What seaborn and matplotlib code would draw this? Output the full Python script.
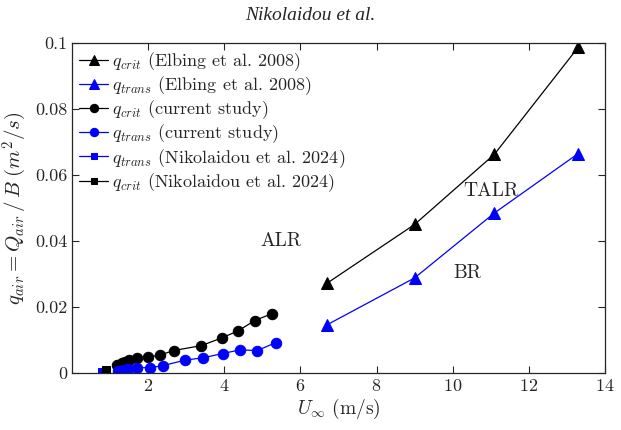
import matplotlib
matplotlib.use("Agg")
import matplotlib.pyplot as plt
import matplotlib.ticker as ticker
import seaborn as sns
import pandas as pd

# Elbing et al. 2008
u_elbing = [6.7, 9.0, 11.1, 13.3]
q_crit_elbing = [0.0272, 0.0450, 0.0663, 0.0987]
q_trans_elbing = [0.0146, 0.0288, 0.0485, 0.0665]

# current study
u_crit_cur = [1.18, 1.30, 1.40, 1.50, 1.70, 2.00, 2.30, 2.67, 3.40, 3.93, 4.37, 4.80, 5.26]
q_crit_cur = [0.0025, 0.0030, 0.0034, 0.0038, 0.0045, 0.0048, 0.0054, 0.0068, 0.0083, 0.0106, 0.0128, 0.0159, 0.0180]
u_trans_cur = [1.20, 1.35, 1.48, 1.70, 2.05, 2.38, 2.97, 3.44, 3.96, 4.41, 4.87, 5.35]
q_trans_cur = [0.0007, 0.0010, 0.0013, 0.0016, 0.0016, 0.0022, 0.0039, 0.0046, 0.0059, 0.0070, 0.0068, 0.0092]

# Nikolaidou et al. 2024
u_trans_nik = [0.78]
q_trans_nik = [0.0004]
u_crit_nik = [0.90]
q_crit_nik = [0.0010]

sns.set_style("ticks")
plt.rcParams['font.family'] = ['cmr10', 'DejaVu Serif']
plt.rcParams['mathtext.fontset'] = 'cm'
plt.rcParams['axes.formatter.use_mathtext'] = True
plt.rcParams['axes.unicode_minus'] = False

fig = plt.figure(figsize=(6.21, 4.30), dpi=100)
ax = fig.add_axes([0.116, 0.1326, 0.858, 0.7674])

def draw(u, q, color, marker, ms, label):
    df = pd.DataFrame({'u': u, 'q': q})
    sns.lineplot(data=df, x='u', y='q', ax=ax, color=color, marker=marker,
                 markersize=ms, markeredgecolor=color, linewidth=0.9,
                 sort=False, estimator=None, label=label)

draw(u_elbing, q_crit_elbing, 'black', '^', 8.5, r'$q_{crit}$ (Elbing et al. 2008)')
draw(u_elbing, q_trans_elbing, 'blue', '^', 8.5, r'$q_{trans}$ (Elbing et al. 2008)')
draw(u_crit_cur, q_crit_cur, 'black', 'o', 7.5, r'$q_{crit}$ (current study)')
draw(u_trans_cur, q_trans_cur, 'blue', 'o', 7.5, r'$q_{trans}$ (current study)')
draw(u_trans_nik, q_trans_nik, 'blue', 's', 6, r'$q_{trans}$ (Nikolaidou et al. 2024)')
draw(u_crit_nik, q_crit_nik, 'black', 's', 6, r'$q_{crit}$ (Nikolaidou et al. 2024)')

ax.set_xlim(0, 14)
ax.set_ylim(0, 0.1)
ax.set_xticks([2, 4, 6, 8, 10, 12, 14])
ax.set_yticks([0, 0.02, 0.04, 0.06, 0.08, 0.1])
ax.yaxis.set_major_formatter(ticker.FuncFormatter(lambda v, p: '%g' % v))
ax.tick_params(direction='in', top=True, right=True, labelsize=13, length=5, width=0.8, colors='#262626')
for s in ax.spines.values():
    s.set_linewidth(0.9)
    s.set_color('#262626')

ax.set_xlabel(r'$U_\infty$ (m/s)', fontsize=14, labelpad=2)
ax.set_ylabel(r'$q_{air} = Q_{air}\,/\,B\ (m^2/s)$', fontsize=15, labelpad=4)

ax.text(5.5, 0.040, 'ALR', fontsize=14, ha='center', va='center')
ax.text(11.0, 0.0552, 'TALR', fontsize=14, ha='center', va='center')
ax.text(10.4, 0.0302, 'BR', fontsize=14, ha='center', va='center')

leg = ax.legend(loc='upper left', frameon=False, fontsize=13, handlelength=1.6,
                handletextpad=0.2, labelspacing=0.08, borderaxespad=0.0,
                bbox_to_anchor=(0.0, 1.0), markerscale=0.8)

fig.text(0.5, 0.965, 'Nikolaidou et al.', ha='center', va='center', fontsize=14,
         family='Liberation Serif', style='italic')

fig.savefig('out.png', dpi=100)
